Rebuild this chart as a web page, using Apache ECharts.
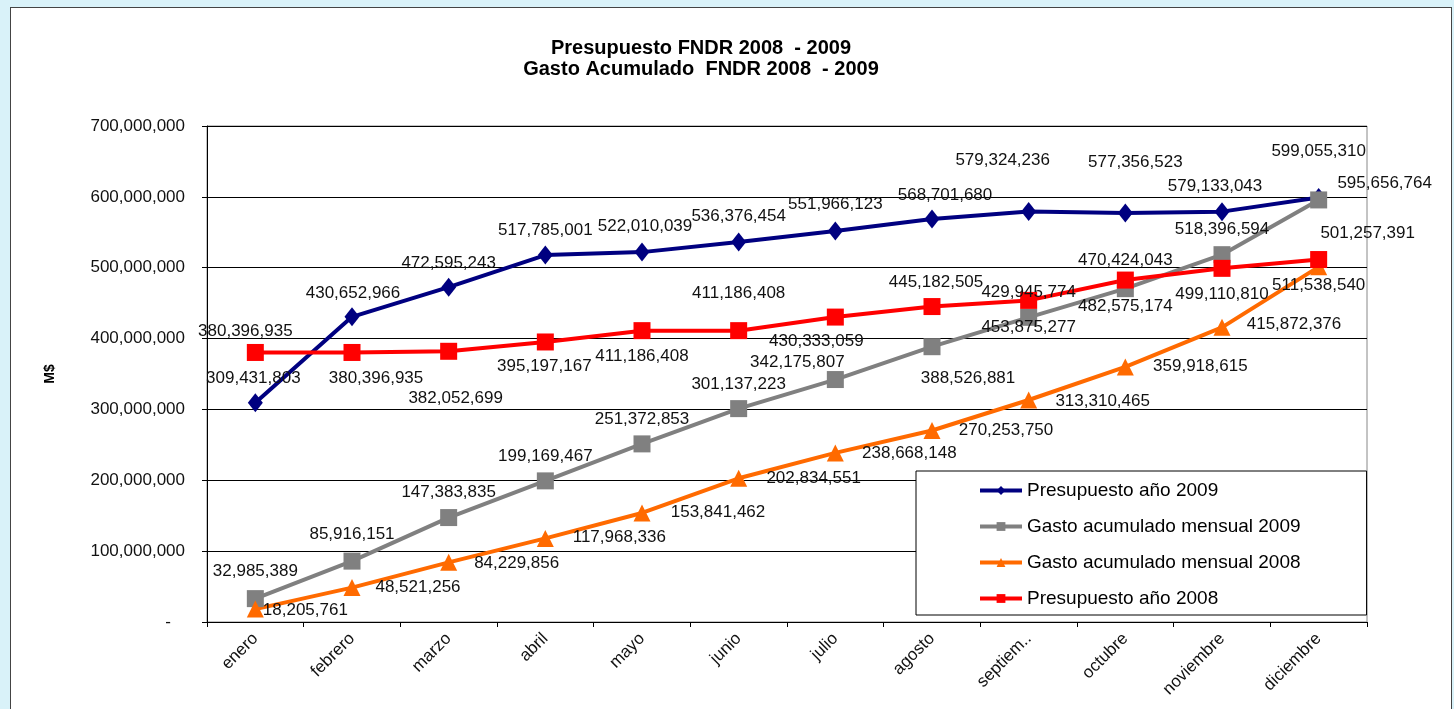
<!DOCTYPE html>
<html>
<head>
<meta charset="utf-8">
<script src="https://cdn.jsdelivr.net/npm/echarts@6/dist/echarts.min.js"></script>
<style>
  html, body { margin: 0; padding: 0; width: 1454px; height: 709px; overflow: hidden; background: #d9f2f9; }
  .frame { position: absolute; left: 10px; top: 7px; width: 1440px; height: 720px; background: #fff; border: 1px solid #444; }
  #chart { position: absolute; left: 0; top: 0; width: 1454px; height: 709px; }
</style>
</head>
<body>
<div class="frame"></div>
<div id="chart"></div>
<script>
// months (as they appear on the axis)
var months = ['enero', 'febrero', 'marzo', 'abril', 'mayo', 'junio', 'julio', 'agosto', 'septiem..', 'octubre', 'noviembre', 'diciembre'];

// M$
var presupuesto2009 = [309431803, 430652966, 472595243, 517785001, 522010039, 536376454, 551966123, 568701680, 579324236, 577356523, 579133043, 599055310];
var gasto2009 = [32985389, 85916151, 147383835, 199169467, 251372853, 301137223, 342175807, 388526881, 429945774, 470424043, 518396594, 595656764];
var gasto2008 = [18205761, 48521256, 84229856, 117968336, 153841462, 202834551, 238668148, 270253750, 313310465, 359918615, 415872376, 501257391];
var presupuesto2008 = [380396935, 380396935, 382052699, 395197167, 411186408, 411186408, 430333059, 445182505, 453875277, 482575174, 499110810, 511538540];

var yTicks = { min: 0, max: 700000000, interval: 100000000 };

// label nudges (label centre relative to the marker), like the hand-placed labels of the original
var nudge = {
	p09: [[-2, -24], [1, -24], [0, -24], [0, -25], [3, -26], [0, -26], [0, -27], [13, -24], [-26, -51], [10, -51], [-7, -25], [0, -46]],
	g09: [[0, -27], [0, -27], [0, -25], [0, -25], [0, -25], [0, -24], [-38, -17], [36, 32], [0, -25], [0, -28], [0, -25], [66, -17]],
	g08: [[50, 1], [66, 0], [68, 1], [74, -1], [76, -1], [75, 0], [74, 0], [74, 0], [74, 1], [75, -1], [72, -3], [49, -34]],
	p08: [[-10, -21], [24, 26], [7, 47], [-1, 24], [0, 26], [0, -37], [-19, 24], [4, -24], [0, 27], [0, 26], [0, 26], [0, 26]]
};

var FONT = '"Liberation Sans", Arial, sans-serif';

function fmt(v) {
	return Number(v).toLocaleString('en-US');
}

function points(values, offs) {
	return values.map(function(v, i) {
		return {
			value: v,
			label: { offset: offs[i] }
		};
	});
}

function lineSeries(name, values, offs, color, symbol, size) {
	return {
		type: 'line',
		name: name,
		data: points(values, offs),
		symbol: symbol,
		symbolSize: size,
		lineStyle: { color: color, width: 4 },
		itemStyle: { color: color },
		label: {
			show: true,
			position: 'inside',
			color: '#111',
			fontSize: 17,
			fontFamily: FONT,
			formatter: function(p) {
				return fmt(p.value);
			}
		},
		emphasis: { disabled: true },
		animation: false
	};
}

var chart = echarts.init(document.getElementById('chart'));
chart.setOption({
	backgroundColor: 'transparent',
	title: {
		text: 'Presupuesto FNDR 2008  - 2009\nGasto Acumulado  FNDR 2008  - 2009',
		left: 696,
		top: 33,
		textAlign: 'center',
		textStyle: {
			fontFamily: FONT,
			fontSize: 20,
			fontWeight: 'bold',
			color: '#000',
			lineHeight: 21
		}
	},
	legend: {
		orient: 'vertical',
		left: 916,
		top: 471,
		padding: [10, 66, 7, 62],
		itemWidth: 42,
		itemHeight: 11,
		itemGap: 17,
		backgroundColor: '#fff',
		borderColor: '#000',
		borderWidth: 1,
		borderRadius: 0,
		lineStyle: { width: 4 },
		textStyle: { fontFamily: FONT, fontSize: 19, color: '#000', height: 19, lineHeight: 19 },
		data: ['Presupuesto año 2009', 'Gasto acumulado mensual 2009', 'Gasto acumulado mensual 2008', 'Presupuesto año 2008']
	},
	grid: {
		left: 207,
		right: 87,
		top: 126,
		bottom: 87,
		show: true,
		borderColor: '#888',
		borderWidth: 1
	},
	xAxis: {
		type: 'category',
		data: months,
		boundaryGap: true,
		axisLine: { lineStyle: { color: '#000', width: 1 } },
		axisTick: { show: true, length: 5, lineStyle: { color: '#000' } },
		axisLabel: {
			rotate: 45,
			interval: 0,
			margin: 14,
			fontFamily: FONT,
			fontSize: 17,
			color: '#111'
		}
	},
	yAxis: {
		type: 'value',
		min: yTicks.min,
		max: yTicks.max,
		interval: yTicks.interval,
		name: 'M$',
		nameLocation: 'middle',
		nameRotate: 90,
		nameGap: 150,
		nameTextStyle: { fontFamily: FONT, fontSize: 14, fontWeight: 'bold', color: '#000' },
		axisLine: { show: true, lineStyle: { color: '#000' } },
		axisTick: { show: true, length: 5, lineStyle: { color: '#000' } },
		splitLine: { lineStyle: { color: '#000', width: 1 } },
		axisLabel: {
			margin: 22,
			fontFamily: FONT,
			fontSize: 17,
			color: '#111',
			formatter: function(v) {
				return v === 0 ? '-   ' : fmt(v);
			}
		}
	},
	series: [
		lineSeries('Presupuesto año 2009', presupuesto2009, nudge.p09, '#000080', 'diamond', [15, 19]),
		lineSeries('Gasto acumulado mensual 2009', gasto2009, nudge.g09, '#808080', 'rect', 17),
		lineSeries('Gasto acumulado mensual 2008', gasto2008, nudge.g08, '#ff6a00', 'triangle', 17),
		lineSeries('Presupuesto año 2008', presupuesto2008, nudge.p08, '#ff0000', 'rect', 17)
	]
});
</script>
</body>
</html>
